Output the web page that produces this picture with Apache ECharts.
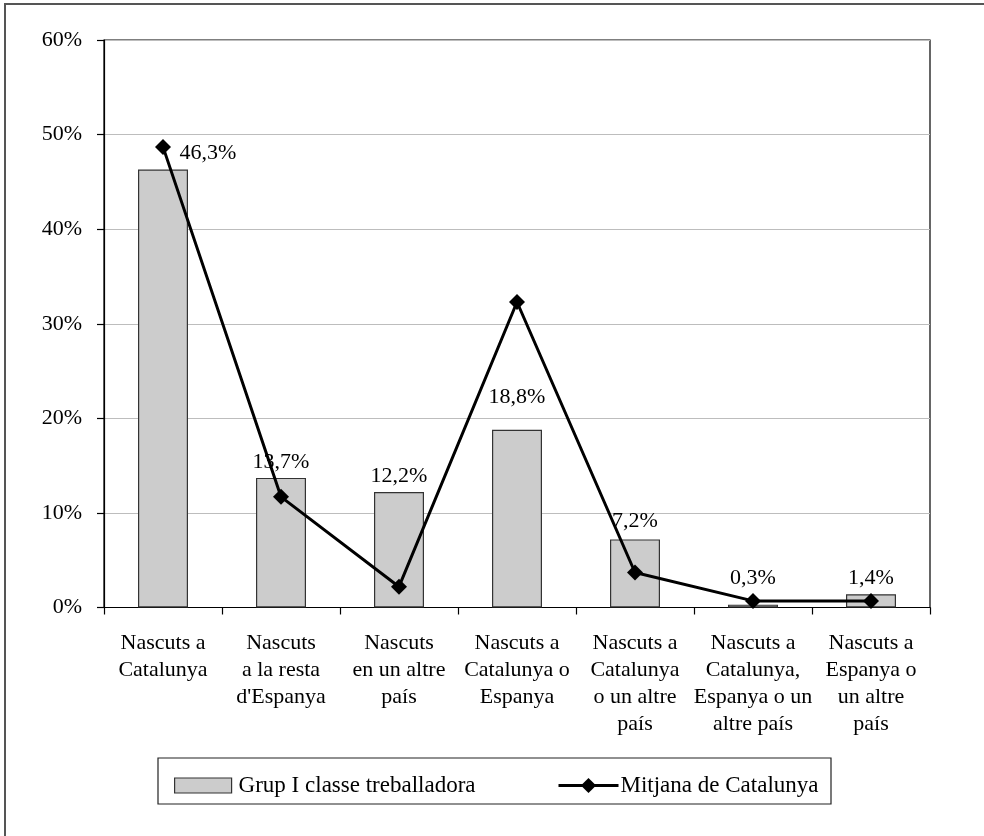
<!DOCTYPE html>
<html>
<head>
<meta charset="utf-8">
<script src="https://cdn.jsdelivr.net/npm/echarts@6/dist/echarts.min.js"></script>
<style>
html,body{margin:0;padding:0;background:#fff;}
#chart{width:984px;height:836px;}
</style>
</head>
<body>
<div id="chart"></div>
<script>
const categories = [
  "Nascuts a\nCatalunya",
  "Nascuts\na la resta\nd'Espanya",
  "Nascuts\nen un altre\npaís",
  "Nascuts a\nCatalunya o\nEspanya",
  "Nascuts a\nCatalunya\no un altre\npaís",
  "Nascuts a\nCatalunya,\nEspanya o un\naltre país",
  "Nascuts a\nEspanya o\nun altre\npaís"
];
const barName = "Grup I classe treballadora";
const lineName = "Mitjana de Catalunya";
const barValues = [46.3, 13.7, 12.2, 18.8, 7.2, 0.3, 1.4];
const lineValues = [48.7, 11.7, 2.2, 32.3, 3.7, 0.7, 0.7];
const yTicks = { min: 0, max: 60, interval: 10 };

const FONT = "'Liberation Serif', 'Times New Roman', serif";
const labelOffsets = [[45, 0], [0, 0], [0, 0], [0, -16], [0, -2], [0, -10], [0, 0]];

const chart = echarts.init(document.getElementById('chart'), null, { renderer: 'canvas' });
const fmt = v => v.toFixed(1).replace('.', ',') + '%';

const option = {
  backgroundColor: '#ffffff',
  animation: false,
  textStyle: { fontFamily: FONT, color: '#000' },
  grid: {
    left: 104, top: 40, right: 54, bottom: 228.5,
    show: true, borderColor: '#000', borderWidth: 1.2, backgroundColor: 'transparent'
  },
  legend: [
    {
      data: [{ name: barName, icon: 'rect' }],
      left: 169, top: 769,
      itemWidth: 57, itemHeight: 15, itemGap: 0,
      itemStyle: { color: '#cccccc', borderColor: '#333', borderWidth: 1.2 },
      textStyle: { fontFamily: FONT, fontSize: 23, color: '#000', padding: [0, 0, 0, 2] },
      selectedMode: false
    },
    {
      data: [lineName],
      left: 552, top: 769,
      itemWidth: 60, itemHeight: 19,
      lineStyle: { color: '#000', width: 3 },
      itemStyle: { color: '#000' },
      textStyle: { fontFamily: FONT, fontSize: 23, color: '#000', padding: [0, 0, 0, -3] },
      selectedMode: false
    }
  ],
  xAxis: {
    type: 'category',
    data: categories,
    boundaryGap: true,
    axisLine: { lineStyle: { color: '#000', width: 1.2 } },
    axisTick: { show: true, length: 7, alignWithLabel: false, lineStyle: { color: '#000', width: 1.2 } },
    axisLabel: {
      interval: 0, margin: 22, fontFamily: FONT, fontSize: 22, lineHeight: 27,
      color: '#000', align: 'center'
    },
    splitLine: { show: false }
  },
  yAxis: {
    type: 'value',
    min: yTicks.min, max: yTicks.max, interval: yTicks.interval,
    axisLine: { show: true, lineStyle: { color: '#000', width: 1.2 } },
    axisTick: { show: true, length: 7, inside: false, lineStyle: { color: '#000', width: 1.2 } },
    axisLabel: { formatter: '{value}%', margin: 22, fontFamily: FONT, fontSize: 22, color: '#000' },
    splitLine: { show: true, lineStyle: { color: '#bdbdbd', width: 1.2 } }
  },
  series: [
    {
      name: barName,
      type: 'bar',
      data: barValues.map((v, i) => ({
        value: v,
        label: { offset: labelOffsets[i] }
      })),
      barWidth: 50,
      itemStyle: { color: '#cccccc', borderColor: '#333', borderWidth: 1.2 },
      label: {
        show: true, position: 'top', distance: 5,
        formatter: p => fmt(p.value),
        fontFamily: FONT, fontSize: 22, color: '#000'
      },
      z: 2
    },
    {
      name: lineName,
      type: 'line',
      data: lineValues,
      symbol: 'diamond',
      symbolSize: 16,
      lineStyle: { color: '#000', width: 3 },
      itemStyle: { color: '#000' },
      z: 3
    }
  ],
  graphic: [
    {
      type: 'rect', silent: true, z: 0,
      shape: { x: 5, y: 4, width: 1100, height: 1100 },
      style: { fill: 'none', stroke: '#555', lineWidth: 2 }
    },
    {
      type: 'rect', silent: true, z: 0,
      shape: { x: 158, y: 758, width: 673, height: 46 },
      style: { fill: 'none', stroke: '#222', lineWidth: 1.2 }
    }
  ]
};
chart.setOption(option);
</script>
</body>
</html>
